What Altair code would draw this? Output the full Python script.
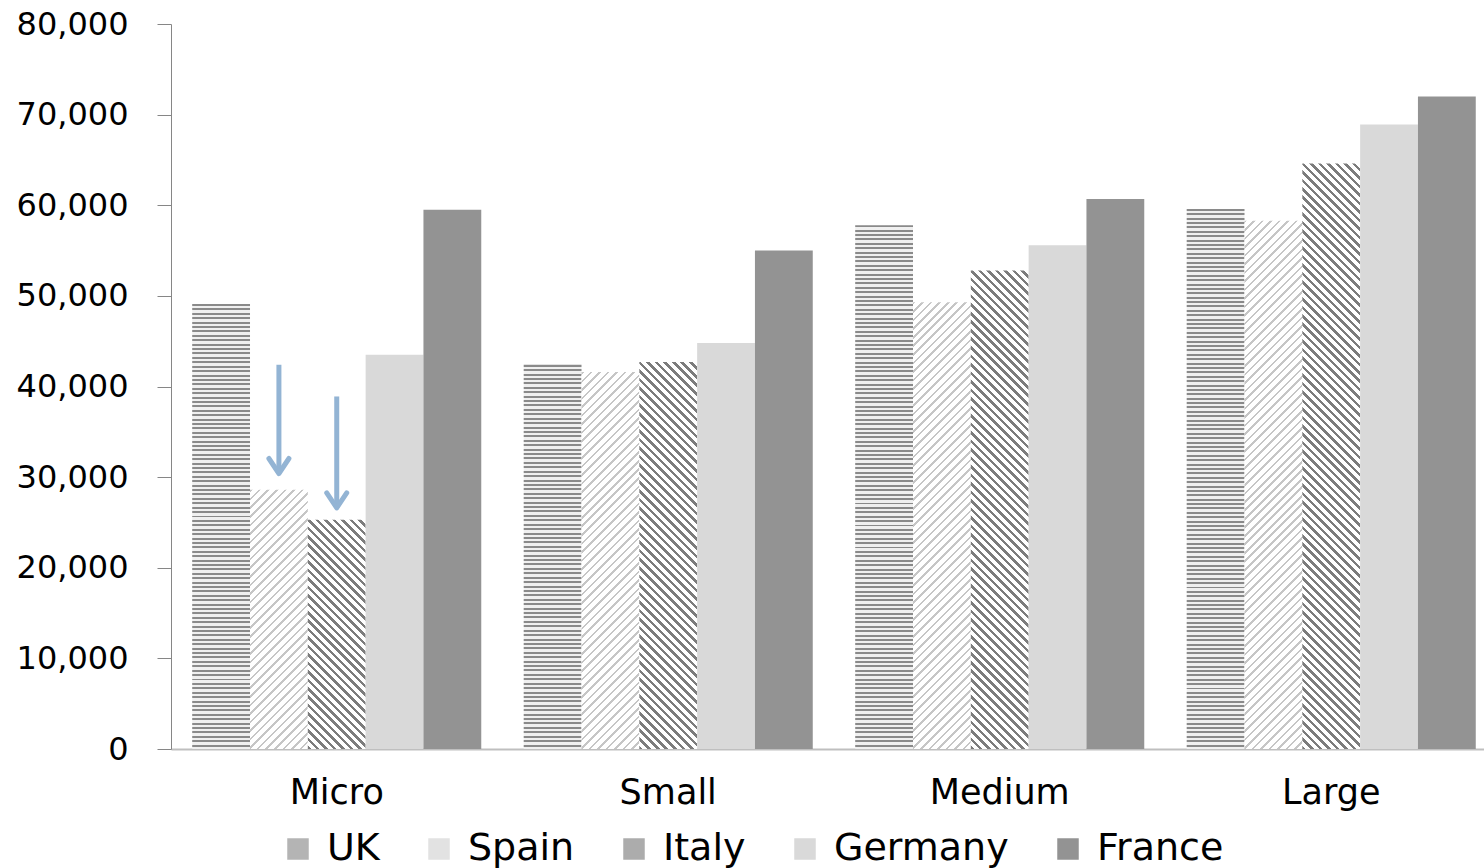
import altair as alt
import pandas as pd

# Average salary by company size and country
sizes = ["Micro", "Small", "Medium", "Large"]
countries = ["UK", "Spain", "Italy", "Germany", "France"]
uk = [49100, 42400, 57800, 59600]
spain = [28600, 41600, 49300, 58300]
italy = [25300, 42700, 52800, 64600]
germany = [43500, 44800, 55600, 68900]
france = [59500, 55000, 60700, 72000]

# Annotation arrows over the micro-company bars of Spain and Italy
arrow_size = ["Micro", "Micro"]
arrow_country = ["Spain", "Italy"]
arrow_from = [42400, 38900]
arrow_to = [30400, 26600]

series = {"UK": uk, "Spain": spain, "Italy": italy, "Germany": germany, "France": france}
rows = []
for c in countries:
    for s, v in zip(sizes, series[c]):
        rows.append({"size": s, "country": c, "value": v})
df = pd.DataFrame(rows)

arrows = pd.DataFrame({"size": arrow_size, "country": arrow_country,
                       "start": arrow_from, "end": arrow_to})

# layout of the plot area
W, H = 1313, 725
YMAX = 80000
PAD_IN, PAD_OUT, ALIGN = 0.128, 0.0444, 0.72
step = W / (len(sizes) - PAD_IN + 2 * PAD_OUT)
bar_w = step * (1 - PAD_IN) / len(countries)


def stripe_stops(dark, light, n, frac, t0=0.0, t1=1.0):
    stops = []
    span = t1 - t0
    for i in range(n):
        a = t0 + span * i / n
        b = t0 + span * (i + frac) / n
        c = t0 + span * (i + 1) / n
        stops += [
            {"offset": round(a, 6), "color": dark},
            {"offset": round(b, 6), "color": dark},
            {"offset": round(b, 6), "color": light},
            {"offset": round(c, 6), "color": light},
        ]
    return stops


# hatch fills built as hard-stop linear gradients (bounding-box units)
def hatch(w, h, kind):
    if kind == "uk":  # fine horizontal lines
        n = max(1, round(h / 4.4))
        return {"gradient": "linear", "x1": 0, "y1": 0, "x2": 0, "y2": 1,
                "stops": stripe_stops("#8a8a8a", "#f0f0f0", n, 0.45)}
    r = h / w
    n = max(1, round(w * (1 + r) / 8.5))
    if kind == "italy":  # bold stripes, top-left to bottom-right
        t0 = (r * r - r) / (1 + r * r)
        return {"gradient": "linear", "x1": 0, "y1": r, "x2": 1, "y2": 0,
                "stops": stripe_stops("#7c7c7c", "#ffffff", n, 0.42, t0, 1.0)}
    # spain: faint stripes, bottom-left to top-right
    t1 = (1 + r) / (1 + r * r)
    return {"gradient": "linear", "x1": 0, "y1": 0, "x2": 1, "y2": r,
            "stops": stripe_stops("#c6c6c6", "#ffffff", n, 0.3, 0.0, t1)}


hatched = {"UK": ("uk", uk), "Spain": ("spain", spain), "Italy": ("italy", italy)}
conditions = []
for country, (kind, vals) in hatched.items():
    for s, v in zip(sizes, vals):
        conditions.append({"test": f"datum.country === '{country}' && datum.size === '{s}'",
                           "value": hatch(bar_w, v / YMAX * H, kind)})

x_enc = alt.X("size:N", sort=sizes, title=None,
              scale=alt.Scale(paddingInner=PAD_IN, paddingOuter=PAD_OUT, align=ALIGN),
              axis=alt.Axis(labelAngle=0, ticks=False, domainColor="#bfbfbf", domainWidth=2,
                            labelFontSize=35, labelPadding=26, labelColor="#000000"))
xoff_enc = alt.XOffset("country:N", sort=countries,
                       scale=alt.Scale(domain=countries, paddingInner=0, paddingOuter=0))

bars = alt.Chart(df).mark_bar(strokeWidth=0).encode(
    x=x_enc,
    xOffset=xoff_enc,
    y=alt.Y("value:Q", title=None,
            scale=alt.Scale(domain=[0, YMAX], nice=False, zero=True),
            axis=alt.Axis(values=list(range(0, YMAX + 1, 10000)), format=",.0f", grid=False,
                          domainColor="#868686", tickColor="#868686", tickSize=14,
                          labelFontSize=32, labelPadding=29, labelColor="#000000")),
    color=alt.Color("country:N", sort=countries,
                    scale=alt.Scale(domain=countries,
                                    range=["#b4b4b4", "#e2e2e2", "#acacac", "#d9d9d9", "#939393"]),
                    legend=alt.Legend(title=None, orient="none", legendX=108, legendY=806,
                                      direction="horizontal", columns=5,
                                      symbolType="square", symbolSize=462,
                                      symbolStrokeWidth=0,
                                      labelFontSize=38, labelOffset=10, columnPadding=40,
                                      labelLimit=400, labelColor="#000000"),
                    condition=conditions),
)

shafts = alt.Chart(arrows).mark_rule(color="#93b4d4", strokeWidth=5).encode(
    x=alt.X("size:N", sort=sizes),
    xOffset=alt.XOffset("country:N", sort=countries),
    y="start:Q",
    y2="end:Q",
)

heads = alt.Chart(arrows).mark_point(
    shape="M -1 -1.5 L 0 0 L 1 -1.5", filled=False, color="#93b4d4",
    strokeWidth=5, strokeCap="round", strokeJoin="round", size=400, opacity=1,
).encode(
    x=alt.X("size:N", sort=sizes),
    xOffset=alt.XOffset("country:N", sort=countries),
    y="end:Q",
)

chart = alt.layer(bars, shafts, heads).properties(
    width=W, height=H,
    autosize=alt.AutoSizeParams(type="none"),
    padding={"left": 171, "top": 24, "right": 0, "bottom": 119},
    background="#ffffff",
).configure_view(stroke=None).configure_axis(
    labelFont="DejaVu Sans",
).configure_legend(
    labelFont="DejaVu Sans",
)

chart.save("out.html", embed_options={"renderer": "svg", "actions": False})
